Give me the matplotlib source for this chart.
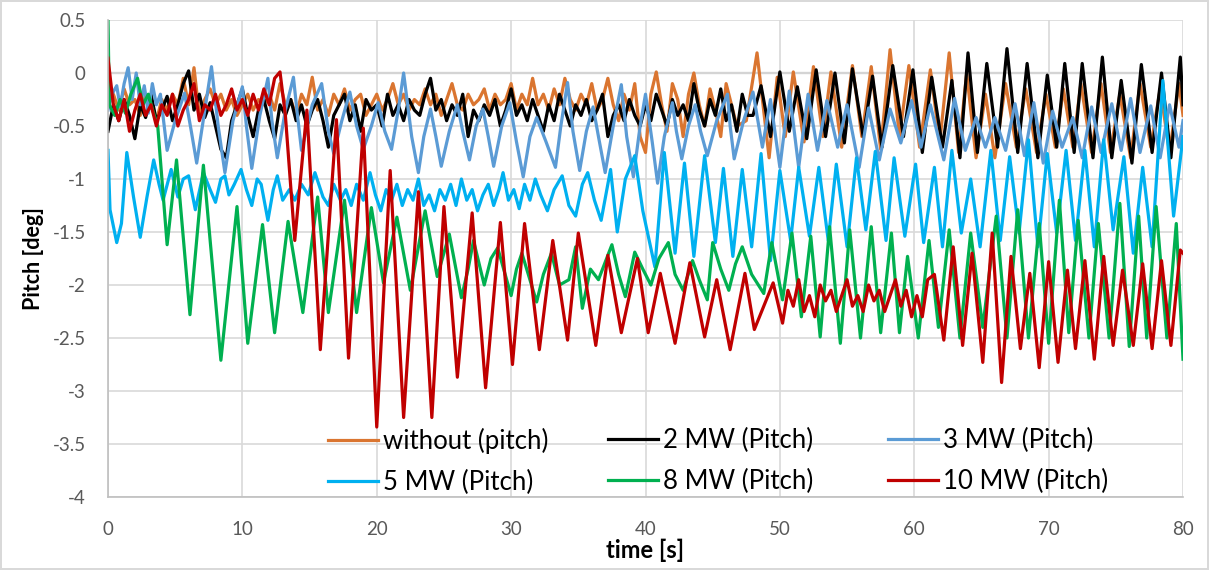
import numpy as np
import matplotlib
matplotlib.use("Agg")
import matplotlib.pyplot as plt
from matplotlib.ticker import FuncFormatter, MultipleLocator

plt.rcParams['font.family'] = ['Lato', 'DejaVu Sans']
plt.rcParams['axes.unicode_minus'] = False

labels = ["without (pitch)", "2 MW (Pitch)", "3 MW (Pitch)",
          "5 MW (Pitch)", "8 MW (Pitch)", "10 MW (Pitch)"]
colors = ["#DA7530", "#000000", "#5B9BD5", "#00B0F0", "#00B050", "#C00000"]

# sampling step of the noisy (non-oscillating) stretches, seconds
noise_step = 0.4

# ---- without (pitch) ----
orange_noise_v = [-0.3, -0.2, -0.35, -0.15, -0.3, -0.25, -0.4, -0.2, -0.3, -0.45,
                  -0.25, -0.35, -0.2, -0.3, -0.05, -0.3, 0.05, -0.4, -0.25, -0.15,
                  -0.3, -0.2, -0.35, -0.25, -0.4, -0.3, -0.2, -0.35, -0.25, -0.3,
                  -0.2, -0.35, -0.1, -0.3, -0.25, -0.4, -0.2, -0.3, -0.04, -0.35,
                  -0.25, -0.4, -0.2, -0.3, -0.15, -0.35, -0.25, -0.2, -0.4, -0.3,
                  -0.2, -0.35, -0.25, -0.1, -0.3, -0.2, -0.35, -0.25, -0.3, -0.15,
                  -0.3, -0.2, -0.4, -0.25, -0.1, -0.3, -0.35, -0.2, -0.3, -0.25,
                  -0.15, -0.35, -0.2, -0.3, -0.25, -0.1, -0.35, -0.2, -0.3, -0.05,
                  -0.3, -0.2, -0.35, -0.15, -0.3, -0.05, -0.25, -0.35, -0.2, -0.3,
                  -0.1, -0.35, -0.25, -0.05, -0.3, -0.45, -0.2, -0.35, -0.1, -0.6,
                  -0.75, -0.2, 0.01, -0.3, -0.55, -0.1, -0.25, -0.6, -0.2, 0.0,
                  -0.3, -0.5, -0.15, -0.35, -0.6, -0.1, -0.3, -0.5]
orange_osc_t = [47.5, 48.3, 49.2, 49.8, 50.4, 51.0, 51.8, 52.5, 53.2, 53.8, 54.6, 55.4,
                56.1, 56.8, 57.5, 58.2, 58.9, 59.6, 60.4, 61.2, 61.9, 62.6, 63.3, 63.9,
                64.6, 65.3, 66.0, 66.8, 67.6, 68.3, 69.1, 69.8, 70.5, 71.1, 71.8, 72.4,
                73.2, 73.9, 74.6, 75.3, 76.1, 76.8, 77.6, 78.3, 79.0, 79.7, 80.0]
orange_osc_v = [-0.45, 0.19, -0.8, -0.04, -0.6, 0.01, -0.65, 0.06, -0.6, 0.01, -0.7, 0.07,
                -0.6, 0.06, -0.72, 0.22, -0.6, 0.07, -0.7, 0.03, -0.65, 0.19, -0.75, 0.0,
                -0.8, -0.2, -0.8, -0.1, -0.7, -0.15, -0.75, -0.2, -0.7, -0.15, -0.7, -0.1,
                -0.75, -0.1, -0.75, -0.2, -0.8, -0.1, -0.7, -0.15, -0.75, -0.1, -0.4]

# ---- 2 MW ----
black_noise_v = [-0.55, -0.3, -0.45, -0.25, -0.4, -0.62, -0.3, -0.42, -0.2, -0.45,
                 -0.35, -0.22, -0.45, -0.3, -0.1, 0.02, -0.35, -0.2, -0.42, -0.28,
                 -0.5, -0.72, -0.8, -0.45, -0.3, -0.15, -0.4, -0.6, -0.35, -0.25,
                 -0.45, -0.62, -0.3, -0.4, -0.25, -0.45, -0.3, -0.5, -0.35, -0.25,
                 -0.45, -0.7, -0.4, -0.3, -0.2, -0.45, -0.3, -0.55, -0.25, -0.35,
                 -0.3, -0.5, -0.2, -0.4, -0.3, -0.45, -0.25, -0.35, -0.4, -0.2,
                 -0.05, -0.35, -0.25, -0.45, -0.3, -0.4, -0.2, -0.6, -0.35, -0.45,
                 -0.3, -0.4, -0.25, -0.5, -0.35, -0.15, -0.4, -0.3, -0.45, -0.25,
                 -0.4, -0.55, -0.3, -0.45, -0.2, -0.35, -0.5, -0.3, -0.4, -0.25,
                 -0.45, -0.35, -0.2, -0.6, -0.4, -0.3, -0.45, -0.25, -0.4, -0.5,
                 -0.3, -0.45, -0.2, -0.35, -0.5, -0.25, -0.4, -0.3, -0.45, -0.1,
                 -0.35, -0.5, -0.25, -0.4, -0.15, -0.45, -0.3, -0.55, -0.2, -0.4]
black_osc_t = [48.0, 48.6, 49.3, 50.0, 50.7, 51.3, 52.0, 52.7, 53.4, 54.1, 54.8, 55.4,
               56.2, 56.9, 57.6, 58.4, 59.2, 59.9, 60.6, 61.3, 62.1, 62.8, 63.4, 64.0,
               64.7, 65.4, 66.2, 66.9, 67.7, 68.4, 69.2, 69.9, 70.6, 71.2, 71.9, 72.5,
               73.3, 74.0, 74.7, 75.4, 76.2, 76.9, 77.7, 78.4, 79.1, 79.8, 80.0]
black_osc_v = [-0.4, -0.12, -0.6, 0.01, -0.55, -0.13, -0.62, 0.03, -0.6, 0.0, -0.66, 0.04,
               -0.6, -0.03, -0.7, 0.07, -0.6, 0.03, -0.75, -0.04, -0.7, -0.07, -0.8, 0.19,
               -0.75, 0.09, -0.7, 0.23, -0.75, 0.09, -0.8, -0.02, -0.7, 0.09, -0.75, 0.09,
               -0.8, 0.15, -0.8, -0.07, -0.85, 0.08, -0.75, 0.0, -0.8, 0.15, -0.3]

# ---- 3 MW ----
blue_t = [0.0, 0.3, 0.65, 0.9, 1.2, 1.5, 1.8, 2.1, 2.4, 2.7, 3.0, 3.3, 3.6, 3.9, 4.4,
          5.0, 5.7, 6.2, 6.6, 7.2, 7.7, 8.2, 8.7, 9.3, 10.0, 10.3, 10.7, 11.3, 11.9,
          12.2, 12.6, 13.2, 13.8, 14.1, 14.4, 15.2, 15.9, 16.4, 16.8, 17.4, 18.0, 18.5,
          19.0, 19.6, 20.1, 20.6, 21.1, 21.6, 22.0, 22.6, 23.1, 23.5, 24.0, 24.4, 24.8,
          25.4, 26.0, 26.4, 26.9, 27.4, 27.9, 28.3, 28.7, 29.3, 29.9, 30.4, 30.9, 31.4,
          31.9, 32.6, 33.3, 33.7, 34.2, 34.6, 35.1, 35.6, 36.1, 36.5, 37.0, 37.6, 38.2,
          38.6, 39.1, 39.6, 40.0, 40.5, 40.9, 41.4, 42.0, 42.3, 42.7, 43.2, 43.7, 44.1,
          44.6, 45.3, 46.1, 46.3, 46.6, 47.3, 48.0, 48.7, 49.3, 50.0, 50.7, 51.4, 52.1,
          52.8, 53.5, 54.3, 55.0, 55.9, 56.6, 57.4, 58.2, 59.0, 59.8, 60.5, 61.2, 62.2,
          63.0, 63.8, 64.6, 65.3, 66.0, 66.8, 67.5, 68.2, 68.9, 69.6, 70.3, 71.0, 71.8,
          72.5, 73.2, 73.9, 74.7, 75.4, 76.1, 76.8, 77.6, 78.3, 79.0, 79.7, 80.0]
blue_v = [-0.35, -0.2, -0.12, -0.32, -0.1, 0.05, -0.25, 0.0, -0.3, -0.12, -0.38, -0.1,
          -0.3, -0.2, -0.73, -0.45, -0.19, -0.55, -0.85, -0.35, 0.06, -0.5, -0.94, -0.45,
          -0.13, -0.5, -0.9, -0.4, -0.05, -0.45, -0.8, -0.35, -0.04, -0.4, -0.73, -0.3,
          -0.1, -0.55, -0.76, -0.45, -0.18, -0.5, -0.72, -0.5, -0.28, -0.55, -0.72, -0.35,
          0.0, -0.6, -0.94, -0.6, -0.34, -0.6, -0.88, -0.55, -0.3, -0.55, -0.82, -0.5,
          -0.34, -0.6, -0.88, -0.5, -0.28, -0.65, -0.98, -0.6, -0.42, -0.65, -0.89, -0.5,
          -0.09, -0.55, -0.92, -0.55, -0.32, -0.6, -0.94, -0.5, -0.11, -0.6, -0.98, -0.5,
          -0.2, -0.65, -1.04, -0.6, -0.28, -0.55, -0.81, -0.5, -0.3, -0.55, -0.78, -0.45,
          -0.2, -0.5, -0.81, -0.45, -0.18, -0.7, -0.25, -0.89, -0.17, -0.89, -0.2, -0.73,
          -0.26, -0.7, -0.3, -0.89, -0.33, -0.82, -0.34, -0.66, -0.26, -0.7, -0.3, -0.82,
          -0.24, -0.73, -0.42, -0.7, -0.42, -0.73, -0.29, -0.78, -0.28, -0.85, -0.36, -0.7,
          -0.42, -0.8, -0.32, -0.75, -0.29, -0.73, -0.24, -0.75, -0.31, -0.8, -0.3, -0.7,
          -0.45]

# ---- 5 MW ----
sky_t = [0.0, 0.15, 0.65, 1.0, 1.4, 1.9, 2.4, 2.9, 3.4, 3.8, 4.1, 4.7, 5.2, 5.6, 6.0,
         6.5, 7.1, 7.6, 8.0, 8.4, 8.7, 9.0, 9.4, 9.9, 10.3, 10.7, 11.1, 11.4, 11.9, 12.3,
         12.6, 13.0, 13.5, 13.9, 14.4, 14.9, 15.4, 16.0, 16.4, 16.8, 17.3, 17.7, 18.1,
         18.5, 19.0, 19.5, 19.9, 20.3, 20.7, 21.1, 21.5, 21.9, 22.3, 22.7, 23.1, 23.5,
         23.9, 24.3, 24.7, 25.1, 25.5, 25.9, 26.3, 26.7, 27.1, 27.5, 27.9, 28.3, 28.7,
         29.1, 29.4, 29.8, 30.2, 30.6, 31.0, 31.4, 31.8, 32.2, 32.7, 33.2, 33.8, 34.3,
         34.8, 35.3, 35.7, 36.2, 36.7, 37.4, 37.9, 38.5, 39.2, 39.8, 40.7, 41.4, 42.2,
         42.9, 43.6, 44.4, 45.2, 45.8, 46.5, 47.2, 47.9, 48.6, 49.3, 50.0, 50.8, 51.4,
         52.2, 52.9, 53.6, 54.2, 55.0, 55.7, 56.4, 57.1, 57.9, 58.5, 59.3, 60.1, 60.7,
         61.5, 62.1, 62.8, 63.5, 64.2, 64.9, 65.7, 66.4, 67.1, 67.8, 68.5, 69.2, 69.9,
         70.6, 71.3, 72.0, 72.7, 73.4, 74.1, 74.8, 75.6, 76.3, 77.0, 77.7, 78.5, 79.3,
         80.0]
sky_v = [-0.73, -1.29, -1.6, -1.42, -0.75, -1.17, -1.55, -1.17, -0.82, -1.05, -1.2,
         -0.91, -1.17, -1.0, -0.97, -1.29, -0.94, -1.1, -1.22, -1.0, -0.97, -1.15, -1.05,
         -0.91, -1.1, -1.25, -1.0, -1.05, -1.39, -1.1, -0.97, -1.2, -1.1, -1.2, -1.05,
         -1.15, -0.94, -1.17, -1.25, -1.05, -1.2, -1.1, -1.25, -1.05, -1.2, -0.94, -1.15,
         -1.3, -1.1, -1.2, -1.05, -1.25, -1.1, -1.2, -1.0, -1.25, -1.15, -1.3, -1.1, -1.2,
         -1.05, -1.25, -1.0, -1.2, -1.1, -1.3, -1.15, -1.05, -1.25, -1.1, -0.94, -1.2,
         -1.1, -1.28, -1.05, -1.2, -1.0, -1.15, -1.3, -1.1, -0.97, -1.25, -1.35, -1.05,
         -0.94, -1.2, -1.39, -0.91, -1.5, -1.0, -0.78, -1.3, -1.83, -0.75, -1.7, -0.85,
         -1.73, -0.78, -1.6, -0.9, -1.73, -0.91, -1.64, -0.76, -1.77, -0.92, -1.58, -0.89,
         -1.54, -0.89, -1.58, -0.86, -1.64, -0.8, -1.48, -0.74, -1.58, -0.8, -1.54, -0.86,
         -1.6, -0.89, -1.64, -0.73, -1.51, -1.0, -1.64, -0.73, -1.58, -0.79, -1.51, -0.63,
         -1.64, -0.76, -1.51, -0.73, -1.58, -0.73, -1.64, -0.63, -1.48, -0.79, -1.7,
         -0.89, -1.64, -0.07, -1.35, -0.6]

# ---- 8 MW ----
green_t = [0.0, 0.1, 0.5, 0.9, 1.3, 1.7, 2.2, 2.6, 3.0, 3.4, 3.7, 4.4, 5.1, 6.1, 7.1,
           8.4, 9.6, 10.4, 11.5, 12.4, 13.4, 14.5, 15.6, 16.4, 17.6, 18.5, 19.6, 20.5,
           21.5, 22.5, 23.6, 24.5, 25.4, 26.3, 26.8, 27.2, 28.0, 28.5, 29.0, 30.0, 30.4,
           30.8, 31.9, 32.4, 33.0, 33.6, 34.3, 34.8, 35.3, 35.9, 36.5, 37.5, 38.0, 38.5,
           39.2, 39.8, 40.4, 41.0, 41.7, 42.2, 42.8, 43.5, 44.0, 44.6, 45.0, 45.6, 46.2,
           46.7, 47.2, 47.9, 48.8, 49.4, 50.2, 50.9, 51.6, 52.3, 53.0, 53.7, 54.5, 55.2,
           56.0, 56.8, 57.5, 58.3, 58.9, 59.5, 60.3, 61.1, 61.8, 62.6, 63.4, 64.2, 65.1,
           66.1, 66.9, 67.7, 68.5, 69.3, 70.0, 70.8, 71.5, 72.2, 73.0, 73.7, 74.5, 75.3,
           76.0, 76.7, 77.3, 78.0, 78.8, 79.5, 80.0]
green_v = [0.5, -0.3, -0.4, -0.25, -0.38, -0.2, -0.05, -0.3, -0.2, -0.38, -0.5, -1.62,
           -0.82, -2.28, -0.87, -2.71, -1.26, -2.55, -1.43, -2.45, -1.4, -2.26, -1.17,
           -2.26, -1.2, -2.26, -1.27, -1.98, -1.36, -2.05, -1.3, -1.92, -1.52, -2.12,
           -1.85, -1.58, -2.0, -1.75, -1.65, -2.1, -1.85, -1.7, -2.16, -1.9, -1.7, -2.0,
           -1.95, -1.64, -2.22, -1.85, -1.95, -1.62, -1.9, -2.11, -1.69, -1.85, -2.0,
           -1.75, -1.6, -1.9, -2.05, -1.77, -1.95, -2.14, -1.6, -1.85, -2.05, -1.8, -1.64,
           -1.9, -2.08, -1.6, -2.14, -1.51, -2.3, -1.54, -2.49, -1.45, -2.55, -1.48, -2.5,
           -1.45, -2.45, -1.51, -2.45, -1.73, -2.5, -1.58, -2.4, -1.48, -2.5, -1.51, -2.4,
           -1.35, -2.5, -1.29, -2.5, -1.42, -2.55, -1.2, -2.45, -1.39, -2.5, -1.42, -2.5,
           -1.23, -2.58, -1.35, -2.5, -1.26, -2.5, -1.42, -2.7]

# ---- 10 MW ----
red_noise_v = [0.14, -0.3, -0.45, -0.25, -0.55, -0.35, -0.2, -0.4, -0.3, -0.5,
               -0.3, -0.4, -0.2, -0.5, -0.35, -0.25, -0.1, -0.45, -0.3, -0.35,
               -0.2, -0.4, -0.3, -0.15, -0.35, -0.25, -0.4, -0.2, -0.35, -0.15,
               -0.3, -0.05, 0.01, -0.4]
red_osc_t = [13.9, 14.8, 15.8, 17.0, 17.9, 19.0, 20.0, 21.0, 22.0, 23.1, 24.1, 25.0,
             26.0, 27.1, 28.1, 29.2, 30.1, 31.0, 32.1, 33.1, 34.2, 35.0, 36.3, 37.2,
             38.2, 39.4, 40.2, 41.1, 42.2, 43.3, 44.4, 45.3, 46.3, 47.4, 48.1, 49.5,
             50.2, 50.6, 51.0, 51.4, 51.8, 52.2, 52.6, 53.0, 53.4, 53.8, 54.2, 54.6,
             55.0, 55.4, 55.8, 56.2, 56.6, 57.0, 57.4, 57.8, 58.2, 58.6, 59.0, 59.4,
             59.8, 60.2, 60.6, 61.0, 61.5, 62.2, 62.9, 63.6, 64.3, 65.1, 65.8, 66.5,
             67.2, 67.9, 68.6, 69.3, 70.0, 70.7, 71.4, 72.0, 72.7, 73.4, 74.1, 74.8,
             75.5, 76.3, 77.0, 77.7, 78.4, 79.1, 79.8, 80.0]
red_osc_v = [-1.58, -0.35, -2.61, -0.44, -2.69, -0.52, -3.34, -0.92, -3.25, -1.12, -3.25,
             -1.26, -2.87, -1.32, -2.97, -1.41, -2.75, -1.42, -2.61, -1.58, -2.52, -1.51,
             -2.57, -1.72, -2.45, -1.75, -2.45, -1.89, -2.55, -1.79, -2.49, -1.95, -2.61,
             -1.89, -2.42, -1.98, -2.36, -2.05, -2.2, -1.95, -2.25, -2.1, -2.3, -2.0,
             -2.15, -2.05, -2.25, -2.1, -1.95, -2.2, -2.1, -2.25, -2.0, -2.15, -2.05,
             -2.25, -2.1, -1.95, -2.2, -2.05, -2.3, -2.1, -2.3, -1.95, -1.9, -2.52, -1.64,
             -2.57, -1.7, -2.73, -1.51, -2.92, -1.73, -2.6, -1.89, -2.78, -1.78, -2.73,
             -1.86, -2.6, -1.77, -2.7, -1.73, -2.57, -1.86, -2.57, -1.8, -2.6, -1.77,
             -2.57, -1.67, -1.7]


def noisy_times(vals):
    return list(np.arange(len(vals)) * noise_step)


orange_t = noisy_times(orange_noise_v) + orange_osc_t
orange_v = orange_noise_v + orange_osc_v
black_t = noisy_times(black_noise_v) + black_osc_t
black_v = black_noise_v + black_osc_v
red_t = noisy_times(red_noise_v) + red_osc_t
red_v = red_noise_v + red_osc_v

series_t = [orange_t, black_t, blue_t, sky_t, green_t, red_t]
series_v = [orange_v, black_v, blue_v, sky_v, green_v, red_v]

W, H = 1209, 570
fig = plt.figure(figsize=(W / 100, H / 100), dpi=100)
fig.patch.set_edgecolor("#D9D9D9")
fig.patch.set_linewidth(1.5)
L, R, T, B = 108, 1183, 20, 497
ax = fig.add_axes([L / W, 1 - B / H, (R - L) / W, (B - T) / H])

lines = []
for t, v, c, lab in zip(series_t, series_v, colors, labels):
    ln, = ax.plot(t, v, color=c, lw=2.3, label=lab, solid_joinstyle='round')
    lines.append(ln)

ax.set_xlim(0, 80)
ax.set_ylim(-4, 0.5)
ax.xaxis.set_major_locator(MultipleLocator(10))
ax.yaxis.set_major_locator(MultipleLocator(0.5))
ax.yaxis.set_major_formatter(FuncFormatter(lambda y, p: f"{y:g}"))
ax.grid(True, color="#D9D9D9", lw=1.2)
ax.set_axisbelow(True)
ax.axhline(0, color="#BFBFBF", lw=1.6, zorder=0.5)
for s in ["top", "right"]:
    ax.spines[s].set_visible(False)
for s in ["left", "bottom"]:
    ax.spines[s].set_color("#BFBFBF")
    ax.spines[s].set_linewidth(1.2)
ax.tick_params(length=0, labelsize=13.5, colors="#595959")
ax.tick_params(axis='y', pad=16)
ax.tick_params(axis='x', pad=17)

ax.set_xlabel("time [s]", fontsize=17, fontweight="bold", labelpad=1)
ax.set_ylabel("Pitch [deg]", fontsize=15.5, fontweight="bold", labelpad=6)

# legend: three columns, each placed at its own x position (row-major order)
col_x = [328, 608, 888]
row_top = 428
for ci in range(3):
    hs = [lines[ci], lines[ci + 3]]
    lg = ax.legend(handles=hs, ncol=1, frameon=False, fontsize=18.5,
                   loc="upper left", bbox_to_anchor=(col_x[ci] / W, 1 - row_top / H),
                   bbox_transform=fig.transFigure, borderpad=0, borderaxespad=0,
                   handlelength=1.95, handletextpad=0.2, labelspacing=0.6)
    if ci < 2:
        ax.add_artist(lg)

fig.savefig("out.png", dpi=100)
